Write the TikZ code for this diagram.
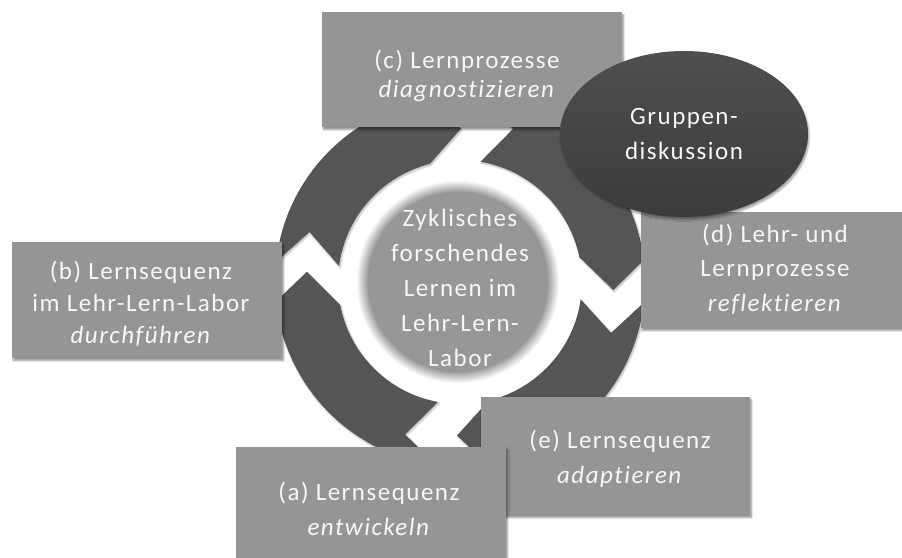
\documentclass[tikz,border=0pt]{standalone}
\usepackage{fontspec}
\setmainfont{Carlito}[LetterSpace=6, Ligatures=NoCommon]
\usetikzlibrary{shapes.geometric,shadows.blur}

\definecolor{boxgray}{HTML}{959595}
\definecolor{ringgray}{HTML}{555555}
\definecolor{hubgray}{HTML}{979797}
\definecolor{txtwhite}{HTML}{F7F7F7}
\definecolor{ovaltop}{HTML}{4E4E4E}
\definecolor{ovalbottom}{HTML}{3C3C3C}

\begin{document}
\begin{tikzpicture}[x=1pt,y=1pt,
  stepbox/.style={rectangle, fill=boxgray, draw=none, inner sep=0pt,
    blur shadow={shadow xshift=1.5pt, shadow yshift=-2.5pt, shadow blur steps=8, shadow opacity=45}},
  steptext/.style={text=txtwhite, align=center, inner sep=0pt},
  lines/.style={font=\fontsize{25}{#1}\selectfont},
  ringarrow/.style={fill=ringgray, draw=none,
    blur shadow={shadow xshift=1pt, shadow yshift=-1.5pt, shadow blur steps=6, shadow opacity=30}},
]
\useasboundingbox (0,0) rectangle (902,-557);

% four curved arrows of the cycle, running clockwise
\begin{scope}[shift={(460,-282)}]
  \path[ringarrow] (173.7:185) arc[start angle=173.7, end angle=99.4, radius=185]
    -- (89.6:153.5) -- (104.3:122) arc[start angle=104.3, end angle=172.45, radius=122]
    -- (161.6:158.6) -- cycle;
  \path[ringarrow] (83.4:185) arc[start angle=83.4, end angle=6.8, radius=185]
    -- (-3:153.5) -- (11.7:122) arc[start angle=11.7, end angle=80.3, radius=122]
    -- (70.9:162) -- cycle;
  \path[ringarrow] (-6.4:185) arc[start angle=-6.4, end angle=-81.3, radius=185]
    -- (-91.1:153.5) -- (-76.4:122) arc[start angle=-76.4, end angle=-8.2, radius=122]
    -- (-18.6:159.4) -- cycle;
  \path[ringarrow] (-97.3:185) arc[start angle=-97.3, end angle=-174, radius=185]
    -- (-183.8:153.5) -- (-169.1:122) arc[start angle=-169.1, end angle=-100.4, radius=122]
    -- (-109.8:162) -- cycle;
\end{scope}

% centre disc: soft rim built from thin rings, grey core on top
\foreach \r in {102,...,90}{
  \pgfmathsetmacro{\mixval}{(102-\r)/12*100}
  \fill[hubgray!\mixval!white] (458,-282) circle[radius=\r];
}
\node[circle, minimum size=180pt, inner sep=0pt, fill=hubgray] (hub) at (458,-282) {};
\node[steptext, lines=35] (hubtxt) at (460,-288)
  {Zyklisches\\forschendes\\Lernen im\\Lehr-Lern-\\Labor};

% step boxes
\node[stepbox, minimum width=300pt, minimum height=115pt] (bc) at (472,-69.5) {};
\node[steptext, lines=29] (tc) at (467,-75.7)
  {(c) Lernprozesse\\\textit{diagnostizieren}};

\node[stepbox, minimum width=270pt, minimum height=116pt] (bb) at (147,-300) {};
\node[steptext, lines=32] (tb) at (141,-303.7)
  {(b) Lernsequenz\\im Lehr-Lern-Labor\\\textit{durchführen}};

\node[stepbox, minimum width=264pt, minimum height=116pt] (bd) at (773,-270) {};
\node[steptext, lines=34.5] (td) at (775,-269.3)
  {(d) Lehr- und\\Lernprozesse\\\textit{reflektieren}};

% discussion oval
\node[ellipse, minimum width=248pt, minimum height=166pt, inner sep=0pt,
  top color=ovaltop, bottom color=ovalbottom, text=txtwhite, align=center, lines=35,
  blur shadow={shadow xshift=1pt, shadow yshift=-2.5pt, shadow blur steps=8, shadow opacity=40}]
  (grp) at (684,-134) {Gruppen-\\diskussion};

\node[stepbox, minimum width=269pt, minimum height=118pt] (be) at (615.5,-456) {};
\node[steptext, lines=35] (te) at (620,-458.6)
  {(e) Lernsequenz\\\textit{adaptieren}};

\node[stepbox, minimum width=270pt, minimum height=118pt] (ba) at (371,-506) {};
\node[steptext, lines=35] (ta) at (369,-508.5)
  {(a) Lernsequenz\\\textit{entwickeln}};
\end{tikzpicture}
\end{document}
